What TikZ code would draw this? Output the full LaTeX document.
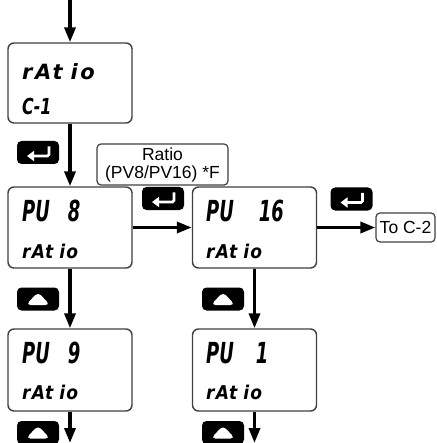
\documentclass[tikz,border=0pt]{standalone}
\usepackage{fontspec}
\setmainfont{Liberation Sans}
\newfontfamily\segbig[FakeStretch=0.62]{DejaVu Sans}
\newfontfamily\segc[FakeStretch=0.72]{DejaVu Sans}
\newfontfamily\segsmall[FakeStretch=0.9,LetterSpace=6]{DejaVu Sans}
\newfontfamily\segmid[LetterSpace=12]{DejaVu Sans}
\usetikzlibrary{arrows.meta,calc}
\begin{document}
\begin{tikzpicture}[x=1pt,y=-1pt,
 dispbox/.style={draw=black!75, line width=1.4pt, rounded corners=6pt, minimum width=124pt, minimum height=81pt, inner sep=0pt, fill=white},
 lblbox/.style={draw=black!75, line width=1.2pt, rounded corners=4pt, fill=white, inner sep=0pt, font=\fontsize{17.5}{18}\selectfont, align=center},
 dispL/.style={anchor=west, inner sep=0pt, font=\segbig\bfseries\itshape\fontsize{29}{29}\selectfont},
 dispC/.style={anchor=west, inner sep=0pt, font=\segc\bfseries\itshape\fontsize{22}{22}\selectfont},
 dispS/.style={anchor=west, inner sep=0pt, font=\segsmall\bfseries\itshape\fontsize{19}{19}\selectfont},
 dispM/.style={anchor=west, inner sep=0pt, font=\segmid\bfseries\itshape\fontsize{21}{21}\selectfont},
 conn/.style={line width=3.4pt, -{Triangle[length=15pt,width=11pt]}},
 btn/.style={fill=black, rounded corners=4.5pt, minimum width=42pt, minimum height=23pt, inner sep=0pt},
 enterbtn/.style={btn, path picture={\draw[white, line width=2.8pt, rounded corners=1.5pt, -{Triangle[length=7pt,width=10pt]}] ($(path picture bounding box.center)+(11,-6)$) -- ($(path picture bounding box.center)+(11,3.5)$) -- ($(path picture bounding box.center)+(-11,3.5)$);}},
 upbtn/.style={btn, path picture={\fill[white] ($(path picture bounding box.center)+(0,-7)$) -- ($(path picture bounding box.center)+(12,6)$) -- ($(path picture bounding box.center)+(-12,6)$) -- cycle;}}
]
\useasboundingbox (0,0) rectangle (436,443);

% display boxes
\node[dispbox, minimum height=80pt] (c1) at (70,83) {};
\node[dispbox] (pv8) at (70,227.5) {};
\node[dispbox] (pv16) at (254.5,227.5) {};
\node[dispbox, minimum height=82pt] (pv9) at (70,370) {};
\node[dispbox, minimum height=82pt] (pv1) at (254.5,370) {};

% display texts
\node[dispM] (t1a) at (22,72) {rAt\hspace{8pt}io};
\node[dispC] (t1b) at (22,106) {C-1};
\node[dispL] (t2a) at (22,211) {PU\hspace{18pt}8};
\node[dispS] (t2b) at (22,251) {rAt\hspace{6pt}io};
\node[dispL] (t3a) at (206,211) {PU\hspace{25pt}16};
\node[dispS] (t3b) at (206,251) {rAt\hspace{6pt}io};
\node[dispL] (t4a) at (22,353) {PU\hspace{18pt}9};
\node[dispS] (t4b) at (22,392) {rAt\hspace{6pt}io};
\node[dispL] (t5a) at (206,353) {PU\hspace{22pt}1};
\node[dispS] (t5b) at (206,392) {rAt\hspace{6pt}io};

% labels
\node[lblbox, minimum width=131pt, minimum height=41pt] (ratio) at (162.5,164.5) {Ratio\\(PV8/PV16) *F};
\node[lblbox, minimum width=59pt, minimum height=29pt] (toc2) at (405.5,227.5) {To C-2};

% buttons
\node[enterbtn] (e1) at (38,152.5) {};
\node[enterbtn] (e2) at (163,198.5) {};
\node[enterbtn] (e3) at (351.5,199) {};
\node[upbtn] (u1) at (38,299) {};
\node[upbtn] (u2) at (223,299) {};
\node[upbtn] (u3) at (38,432.5) {};
\node[upbtn] (u4) at (223,432.5) {};

% connectors
\coordinate (top) at (70,0);
\coordinate (end1) at (70,443);
\coordinate (end2) at (254.5,443);
\draw[conn] (top) -- (c1.north);
\draw[conn] (c1.south) -- (pv8.north);
\draw[conn] (pv8.east) -- (pv16.west);
\draw[conn] (pv16.east) -- (toc2.west);
\draw[conn] (pv8.south) -- (pv9.north);
\draw[conn] (pv16.south) -- (pv1.north);
\draw[conn] (pv9.south) -- (end1);
\draw[conn] (pv1.south) -- (end2);
\end{tikzpicture}
\end{document}
